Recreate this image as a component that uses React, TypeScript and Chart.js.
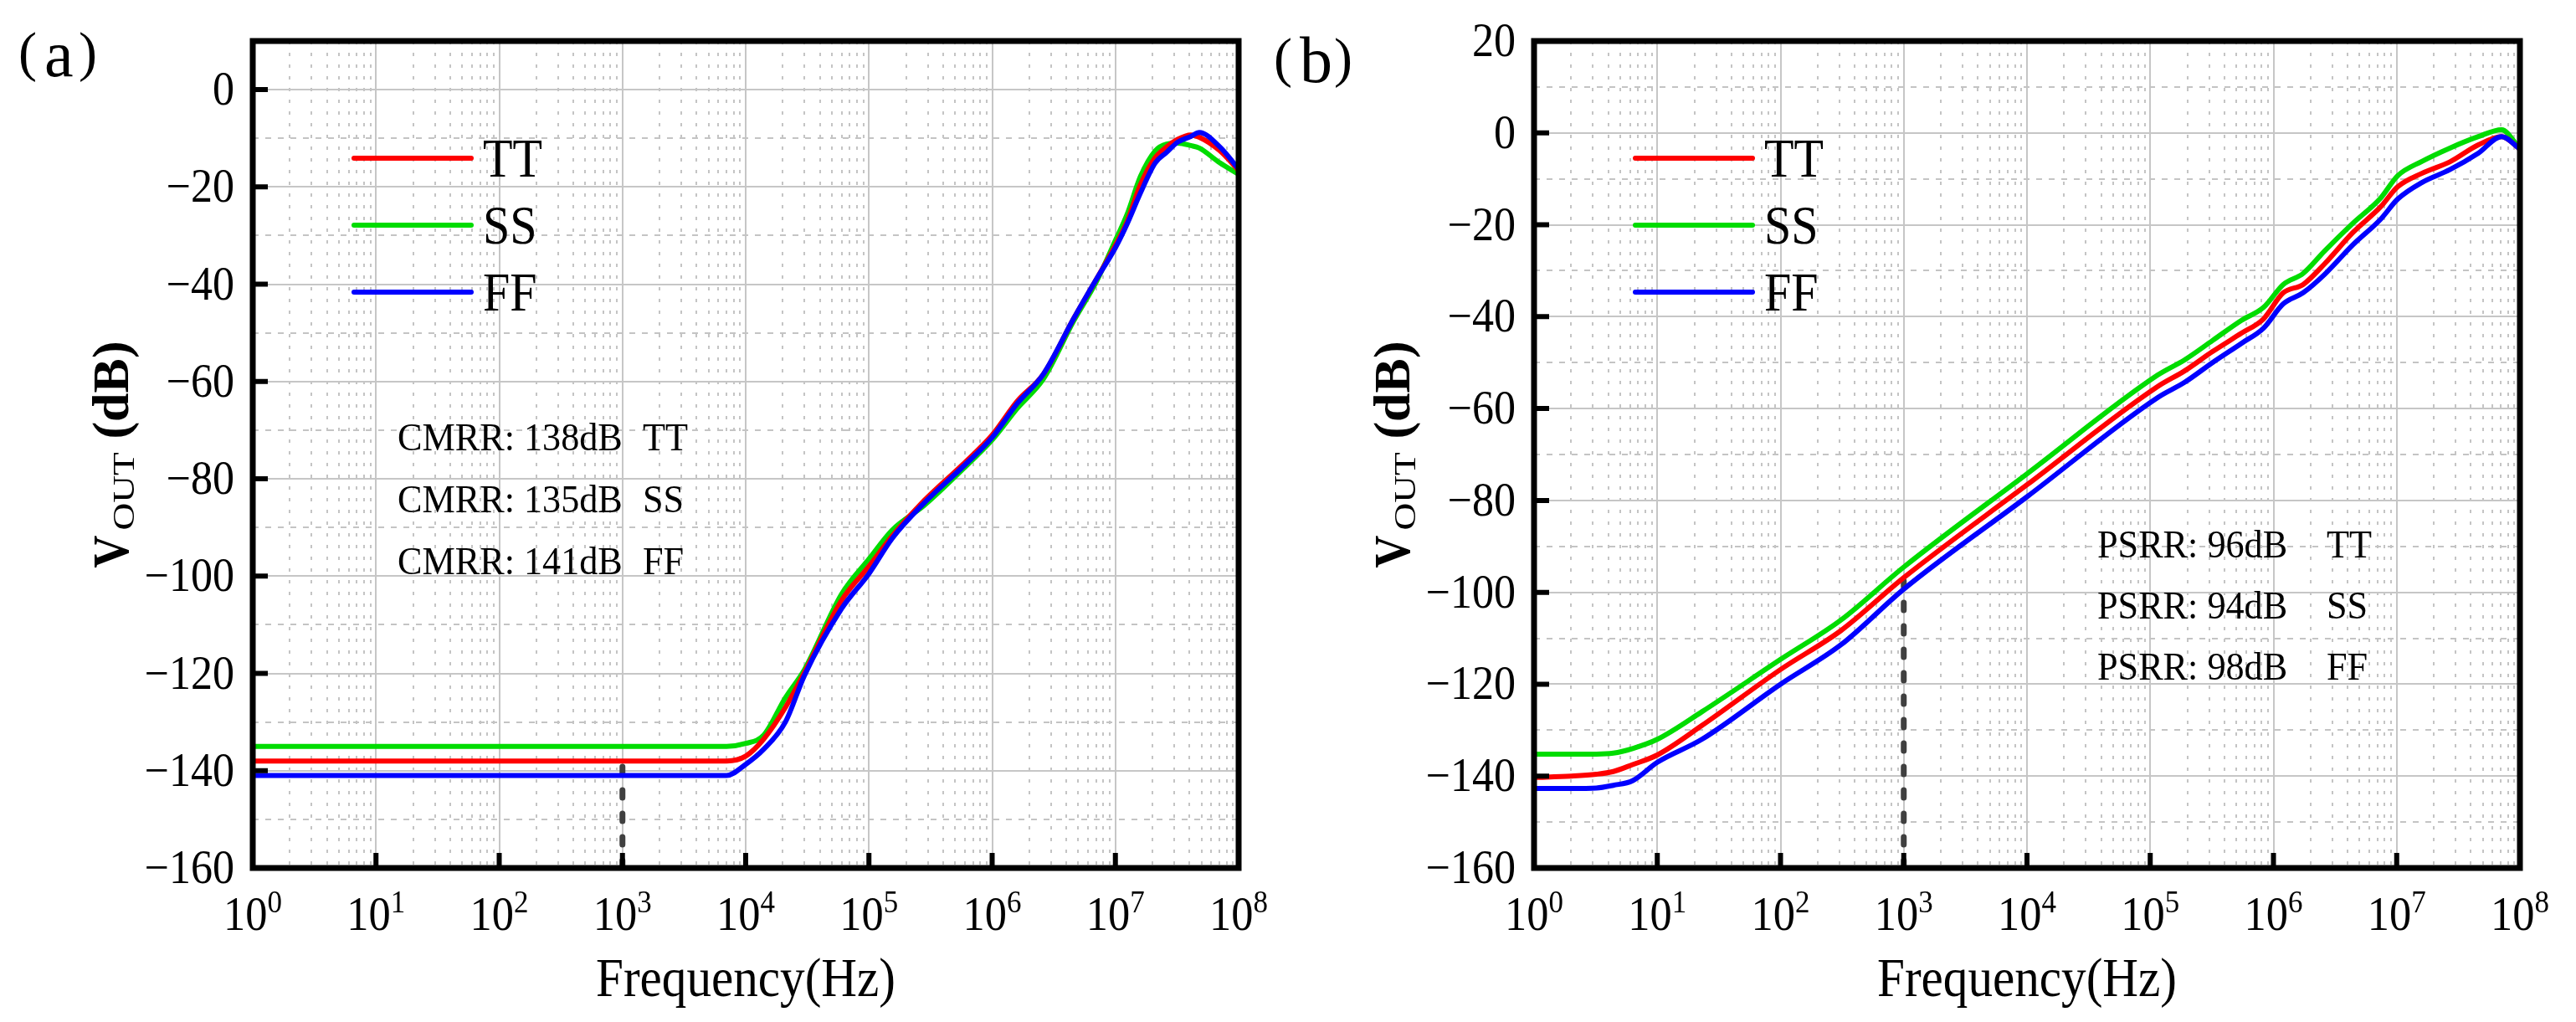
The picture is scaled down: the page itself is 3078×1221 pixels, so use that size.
import { useEffect, useRef } from "react";
import { Chart, registerables } from "chart.js";

Chart.register(...registerables);

const SERIF = "'Liberation Serif', 'Times New Roman', serif";

// (a) CMRR sweep, frequency in Hz
const freqA = [1, 1e3, 7e3, 1e4, 1.4e4, 2.1e4, 3e4, 6e4, 1e5, 1.55e5, 2.8e5, 5.8e5, 1e6, 1.6e6, 2.6e6, 4.6e6, 7e6, 1e7, 1.25e7, 1.6e7, 2.1e7, 2.6e7, 3.2e7, 4.1e7, 4.8e7, 7e7, 1e8];
const cmrrTT = [-138, -138, -138, -137, -133.5, -127, -119.8, -105, -98, -91.7, -84.5, -77, -71, -64, -58.5, -47, -39, -32, -27, -19.5, -14, -11.8, -10.2, -9.3, -9.8, -12.5, -16.6];
const cmrrSS = [-135, -135, -135, -134.4, -132.7, -125, -119.2, -103.7, -96.5, -90.5, -85.5, -78, -72, -65.5, -59.5, -47.5, -39.5, -31, -25.5, -17.8, -12.6, -11.2, -11, -11.5, -12, -15, -17.4];
const cmrrFF = [-141, -141, -141, -138.7, -135.6, -130, -120.4, -106.7, -99.5, -92.2, -85, -77.5, -71.5, -64.5, -58.5, -47, -39, -32.5, -27.5, -21.2, -15.1, -12.9, -10.8, -9.6, -8.8, -11.7, -16.3];

// (b) PSRR sweep, frequency in Hz
const freqB = [1, 2, 3.2, 4.4, 6.3, 10, 23, 100, 310, 1e3, 1e4, 1.15e5, 1.9e5, 3.2e5, 5.5e5, 8.3e5, 1.2e6, 1.74e6, 2.6e6, 4.4e6, 7.4e6, 1.02e7, 1.6e7, 2.7e7, 4.6e7, 7.1e7, 1e8];
const psrrTT = [-140.3, -140, -139.6, -139, -137.5, -135.4, -129, -116.8, -108.3, -96.8, -76.6, -55.2, -51.8, -47.6, -43.6, -40.5, -34.8, -33, -28.5, -21.7, -16.1, -11.7, -8.8, -6.3, -2.6, -0.8, -3.5];
const psrrSS = [-135.2, -135.2, -135.2, -135, -134, -132, -126, -114.6, -106, -94.5, -74.2, -52.7, -49.4, -45.2, -40.8, -38, -33, -30.6, -25.7, -19.7, -14.2, -9.3, -6.2, -3.3, -0.8, 0.7, -3.5];
const psrrFF = [-142.7, -142.7, -142.6, -142, -141, -137, -132, -120, -111.4, -99.3, -79.2, -57.6, -54.3, -50, -45.8, -42.5, -37.2, -34.8, -30.8, -24.4, -18.8, -14.4, -10.8, -8, -4.4, -0.8, -3.5];

// dashed marker at 1 kHz
const markerFreq = [1e3, 1e3];
const markerA = [-160, -138];
const markerB = [-160, -97.5];

const decades = [1, 10, 100, 1e3, 1e4, 1e5, 1e6, 1e7, 1e8];
const decadeExp = ["0", "1", "2", "3", "4", "5", "6", "7", "8"];
const minorMult = [2, 3, 4, 5, 6, 7, 8, 9];
const yTicksA = [-160, -150, -140, -130, -120, -110, -100, -90, -80, -70, -60, -50, -40, -30, -20, -10, 0, 10];
const yTicksB = [-160, -150, -140, -130, -120, -110, -100, -90, -80, -70, -60, -50, -40, -30, -20, -10, 0, 10, 20];

const seriesNames = ["TT", "SS", "FF"];
const seriesColors = ["#ff0000", "#00dc00", "#0000ff"];

const notesA = [["CMRR: 138dB", "TT"], ["CMRR: 135dB", "SS"], ["CMRR: 141dB", "FF"]];
const notesB = [["PSRR: 96dB", "TT"], ["PSRR: 94dB", "SS"], ["PSRR: 98dB", "FF"]];

const xGrid: number[] = [];
decades.forEach((d, i) => {
    xGrid.push(d);
    if (i < decades.length - 1) minorMult.forEach(m => xGrid.push(m * d));
});

// text with horizontal squeeze, the source figure uses narrow glyphs
const txt = (ctx: CanvasRenderingContext2D, s: string, x: number, y: number, font: string, align: CanvasTextAlign = "left", sx = 1) => {
    ctx.save();
    ctx.font = font;
    ctx.textAlign = align;
    ctx.textBaseline = "alphabetic";
    ctx.translate(x, y);
    ctx.scale(sx, 1);
    ctx.fillText(s, 0, 0);
    ctx.restore();
};

const decorPlugin = {
    id: "decor",
    afterDraw(chart: Chart, _args: unknown, opts: any) {
        const { ctx, chartArea: a } = chart;
        const xs = chart.scales.x;
        const ys = chart.scales.y;
        ctx.save();
        ctx.fillStyle = "#000";
        ctx.strokeStyle = "#000";

        // frame
        ctx.lineWidth = 7;
        ctx.lineJoin = "miter";
        ctx.strokeRect(a.left, a.top, a.right - a.left, a.bottom - a.top);

        // inward major ticks
        ctx.lineWidth = 6;
        ctx.beginPath();
        decades.forEach(v => {
            const x = xs.getPixelForValue(v);
            ctx.moveTo(x, a.bottom);
            ctx.lineTo(x, a.bottom - 18);
        });
        (opts.yTicks as number[]).filter(v => v % 20 === 0).forEach(v => {
            const y = ys.getPixelForValue(v);
            ctx.moveTo(a.left, y);
            ctx.lineTo(a.left + 18, y);
        });
        ctx.stroke();

        // y tick labels
        (opts.yTicks as number[]).filter(v => v % 20 === 0).forEach(v => {
            const y = ys.getPixelForValue(v);
            const s = v < 0 ? "\u2212" + Math.abs(v) : String(v);
            txt(ctx, s, a.left - 22, y + 18, `56px ${SERIF}`, "right", 0.93);
        });

        // x tick labels 10^n
        decades.forEach((v, i) => {
            const x = xs.getPixelForValue(v);
            ctx.font = `57px ${SERIF}`;
            const w10 = ctx.measureText("10").width * 0.92;
            ctx.font = `38px ${SERIF}`;
            const wE = ctx.measureText(decadeExp[i]).width * 0.92;
            const x0 = x - (w10 + wE) / 2;
            txt(ctx, "10", x0, a.bottom + 74, `57px ${SERIF}`, "left", 0.92);
            txt(ctx, decadeExp[i], x0 + w10, a.bottom + 53, `38px ${SERIF}`, "left", 0.92);
        });

        // x title
        txt(ctx, "Frequency(Hz)", (a.left + a.right) / 2, a.bottom + 153, `65px ${SERIF}`, "center", 0.91);

        // y title: V_OUT (dB), rotated
        const fB = `bold 62px ${SERIF}`;
        const fS = `35px ${SERIF}`;
        ctx.font = fB;
        const wV = ctx.measureText("V").width * 0.87;
        const wR = ctx.measureText(" (dB)").width;
        ctx.font = fS;
        const wO = ctx.measureText("OUT").width * 1.3;
        const total = wV + 6 + wO + wR;
        ctx.save();
        ctx.translate(a.left - 149, (a.top + a.bottom) / 2);
        ctx.rotate(-Math.PI / 2);
        let cx = -total / 2;
        txt(ctx, "V", cx, 0, fB, "left", 0.87);
        cx += wV + 6;
        txt(ctx, "OUT", cx, 7, fS, "left", 1.3);
        cx += wO;
        txt(ctx, " (dB)", cx, 0, fB, "left", 1);
        ctx.restore();

        // legend
        seriesNames.forEach((n, i) => {
            const y = a.top + 140 + i * 80;
            ctx.strokeStyle = seriesColors[i];
            ctx.lineWidth = 6;
            ctx.lineCap = "round";
            ctx.beginPath();
            ctx.moveTo(a.left + 121, y);
            ctx.lineTo(a.left + 261, y);
            ctx.stroke();
            txt(ctx, n, a.left + 275, y + 22, `66px ${SERIF}`, "left", 0.88);
        });

        // notes
        (opts.notes as string[][]).forEach((row, i) => {
            const y = a.top + opts.noteTop + i * opts.noteStep;
            txt(ctx, row[0], a.left + opts.noteX[0], y, `47px ${SERIF}`, "left", 0.94);
            txt(ctx, row[1], a.left + opts.noteX[1], y, `47px ${SERIF}`, "left", 0.94);
        });

        // panel label
        const dy = opts.labelDy;
        txt(ctx, "(", 22, 84 + dy, `66px ${SERIF}`, "left", 1);
        txt(ctx, opts.label, 53, 91 + dy, `78px ${SERIF}`, "left", 1);
        txt(ctx, ")", 116, 84 + dy, `66px ${SERIF}`, "right", 1);

        ctx.restore();
    },
};

type PanelProps = {
    left: number;
    width: number;
    padding: { left: number; right: number; top: number; bottom: number };
    freq: number[];
    tt: number[];
    ss: number[];
    ff: number[];
    marker: number[];
    yMax: number;
    yTicks: number[];
    notes: string[][];
    noteX: number[];
    noteTop: number;
    noteStep: number;
    label: string;
    labelDy: number;
};

const Panel = (p: PanelProps) => {
    const canvasRef = useRef<HTMLCanvasElement | null>(null);
    const chartRef = useRef<Chart | null>(null);

    useEffect(() => {
        if (!canvasRef.current) return;
        const pts = (vals: number[]) => p.freq.map((f, i) => ({ x: f, y: vals[i] }));
        const curve = (label: string, vals: number[], color: string, order: number) => ({
            label,
            data: pts(vals),
            borderColor: color,
            backgroundColor: color,
            borderWidth: 6,
            pointRadius: 0,
            cubicInterpolationMode: "monotone" as const,
            order,
        });

        if (chartRef.current) chartRef.current.destroy();
        chartRef.current = new Chart(canvasRef.current, {
            type: "line",
            data: {
                datasets: [
                    curve("TT", p.tt, seriesColors[0], 1),
                    curve("SS", p.ss, seriesColors[1], 2),
                    curve("FF", p.ff, seriesColors[2], 0),
                    {
                        label: "1kHz",
                        data: markerFreq.map((f, i) => ({ x: f, y: p.marker[i] })),
                        borderColor: "#404040",
                        borderWidth: 7,
                        borderDash: [9, 19],
                        borderCapStyle: "round",
                        pointRadius: 0,
                        tension: 0,
                        order: 3,
                    },
                ],
            },
            options: {
                animation: false,
                responsive: true,
                maintainAspectRatio: false,
                layout: { padding: p.padding },
                plugins: {
                    legend: { display: false },
                    tooltip: { enabled: false },
                    // @ts-ignore custom plugin options
                    decor: {
                        yTicks: p.yTicks,
                        notes: p.notes,
                        noteX: p.noteX,
                        noteTop: p.noteTop,
                        noteStep: p.noteStep,
                        label: p.label,
                        labelDy: p.labelDy,
                    },
                },
                scales: {
                    x: {
                        type: "logarithmic",
                        min: 1,
                        max: 1e8,
                        afterBuildTicks: (s: any) => {
                            s.ticks = xGrid.map(v => ({ value: v, major: decades.includes(v) }));
                        },
                        ticks: { display: false },
                        grid: {
                            drawTicks: false,
                            lineWidth: 2,
                            color: (c: any) => (c.tick && c.tick.major ? "#c6c6c6" : "#c4c4c4"),
                            // @ts-ignore older option name
                            borderDash: (c: any) => (c.tick && c.tick.major ? [] : [4, 10]),
                        },
                        border: { display: false, dash: (c: any) => (c.tick && c.tick.major ? [] : [4, 10]) },
                    },
                    y: {
                        type: "linear",
                        min: -160,
                        max: p.yMax,
                        afterBuildTicks: (s: any) => {
                            s.ticks = p.yTicks.map(v => ({ value: v, major: v % 20 === 0 }));
                        },
                        ticks: { display: false },
                        grid: {
                            drawTicks: false,
                            lineWidth: 2,
                            color: (c: any) => (c.tick && c.tick.major ? "#c6c6c6" : "#c4c4c4"),
                            // @ts-ignore older option name
                            borderDash: (c: any) => (c.tick && c.tick.major ? [] : [7, 8]),
                        },
                        border: { display: false, dash: (c: any) => (c.tick && c.tick.major ? [] : [7, 8]) },
                    },
                },
            },
            plugins: [decorPlugin],
        });

        return () => {
            if (chartRef.current) chartRef.current.destroy();
            chartRef.current = null;
        };
    }, []);

    return (
        <div style={{ position: "absolute", left: p.left, top: 0, width: p.width, height: 1221 }}>
            <canvas ref={canvasRef} />
        </div>
    );
};

export default function App() {
    return (
        <div style={{ position: "fixed", left: 0, top: 0, width: 3078, height: 1221, background: "#fff", overflow: "hidden" }}>
            <Panel
                left={0}
                width={1539}
                padding={{ left: 302, right: 59, top: 49, bottom: 184 }}
                freq={freqA}
                tt={cmrrTT}
                ss={cmrrSS}
                ff={cmrrFF}
                marker={markerA}
                yMax={10}
                yTicks={yTicksA}
                notes={notesA}
                noteX={[173, 466]}
                noteTop={489}
                noteStep={74}
                label="a"
                labelDy={0}
            />
            <Panel
                left={1500}
                width={1578}
                padding={{ left: 333, right: 67, top: 49, bottom: 184 }}
                freq={freqB}
                tt={psrrTT}
                ss={psrrSS}
                ff={psrrFF}
                marker={markerB}
                yMax={20}
                yTicks={yTicksB}
                notes={notesB}
                noteX={[673, 947]}
                noteTop={617}
                noteStep={73}
                label="b"
                labelDy={7}
            />
        </div>
    );
}
